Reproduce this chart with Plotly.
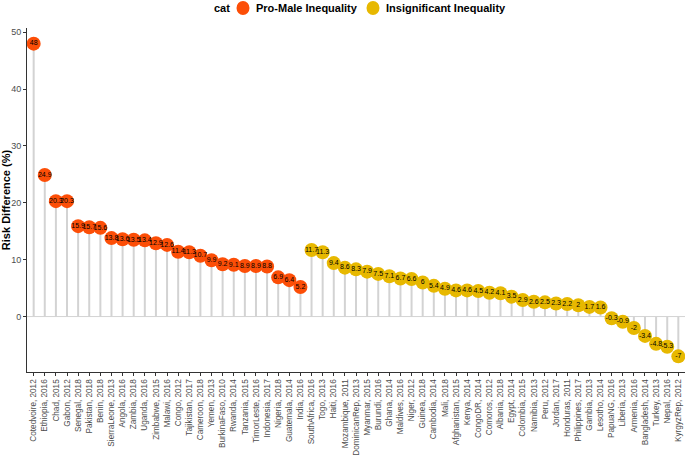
import plotly.graph_objects as go

countries = ["Cotedvoire, 2012", "Ethiopia, 2016", "Chad, 2015", "Gabon, 2012", "Senegal, 2018",
             "Pakistan, 2018", "Benin, 2018", "SierraLeone, 2013", "Angola, 2016", "Zambia, 2018",
             "Uganda, 2016", "Zimbabwe, 2015", "Malawi, 2016", "Congo, 2012", "Tajikistan, 2017",
             "Cameroon, 2018", "Yemen, 2013", "BurkinaFaso, 2010", "Rwanda, 2014", "Tanzania, 2015",
             "TimorLeste, 2016", "Indonesia, 2017", "Nigeria, 2018", "Guatemala, 2014", "India, 2016",
             "SouthAfrica, 2016", "Togo, 2013", "Haiti, 2016", "Mozambique, 2011", "DominicanRep, 2013",
             "Myanmar, 2015", "Burundi, 2016", "Ghana, 2014", "Maldives, 2016", "Niger, 2012",
             "Guinea, 2018", "Cambodia, 2014", "Mali, 2018", "Afghanistan, 2015", "Kenya, 2014",
             "CongoDR, 2014", "Comoros, 2012", "Albania, 2018", "Egypt, 2014", "Colombia, 2015",
             "Namibia, 2013", "Peru, 2012", "Jordan, 2017", "Honduras, 2011", "Philippines, 2017",
             "Gambia, 2013", "Lesotho, 2014", "PapuaNG, 2016", "Liberia, 2013", "Armenia, 2016",
             "Bangladesh, 2014", "Turkey, 2013", "Nepal, 2016", "KyrgyzRep, 2012"]
values = [48, 24.9, 20.3, 20.3, 15.9, 15.7, 15.6, 13.8, 13.6, 13.5,
          13.4, 12.9, 12.6, 11.4, 11.3, 10.7, 9.9, 9.2, 9.1, 8.9,
          8.9, 8.8, 6.9, 6.4, 5.2,
          11.7, 11.3, 9.4, 8.6, 8.3, 7.9, 7.5, 7.1, 6.7, 6.6,
          6, 5.4, 4.9, 4.6, 4.6, 4.5, 4.2, 4.1, 3.5, 2.9,
          2.6, 2.5, 2.3, 2.2, 2, 1.7, 1.6, -0.3, -0.9, -2,
          -3.4, -4.8, -5.3, -7]
cats = ["Pro-Male Inequality"] * 25 + ["Insignificant Inequality"] * 34
cat_names = ["Pro-Male Inequality", "Insignificant Inequality"]
cat_colors = {"Pro-Male Inequality": "#FC4E07", "Insignificant Inequality": "#E7B800"}
legend_title = "cat"
y_ticks = [0, 10, 20, 30, 40, 50]

fig = go.Figure()

# segments from 0 to each value
seg_x, seg_y = [], []
for c, v in zip(countries, values):
    seg_x += [c, c, None]
    seg_y += [0, v, None]
fig.add_trace(go.Scatter(x=seg_x, y=seg_y, mode="lines",
                         line=dict(color="#D3D3D3", width=2),
                         showlegend=False, hoverinfo="skip"))

for cn in cat_names:
    xs = [c for c, k in zip(countries, cats) if k == cn]
    ys = [v for v, k in zip(values, cats) if k == cn]
    fig.add_trace(go.Scatter(x=xs, y=ys, mode="markers", name=cn, showlegend=False,
                             marker=dict(color=cat_colors[cn], size=14)))
    fig.add_trace(go.Scatter(x=xs, y=ys, mode="text", text=[f"{v:g}" for v in ys],
                             textposition="middle center",
                             textfont=dict(size=7, color="#000000"),
                             showlegend=False, hoverinfo="skip"))

fig.add_shape(type="line", xref="paper", yref="y", x0=0, x1=1, y0=0, y1=0,
              line=dict(color="#D3D3D3", width=1), layer="below")

# legend drawn at top (ggplot-style)
L, W = 27, 658
T, H = 28, 344
def px(x):
    return (x - L) / W
leg_y = 1 + (T - 8) / H
fig.add_annotation(x=px(212), y=leg_y, xref="paper", yref="paper", xanchor="left",
                   yanchor="middle", text=f"<b>{legend_title}</b>", showarrow=False,
                   font=dict(size=11, color="#000000"))
for cn, cx, tx in zip(cat_names, [243, 373], [254, 384]):
    fig.add_shape(type="circle", xref="paper", yref="paper", xsizemode="pixel",
                  ysizemode="pixel", xanchor=px(cx), yanchor=leg_y,
                  x0=-6.5, x1=6.5, y0=-7, y1=7,
                  fillcolor=cat_colors[cn], line=dict(width=0))
    fig.add_annotation(x=px(tx), y=leg_y, xref="paper", yref="paper", xanchor="left",
                       yanchor="middle", text=f"<b>{cn}</b>", showarrow=False,
                       font=dict(size=11, color="#000000"))

fig.update_layout(
    width=685, height=457,
    margin=dict(l=L, r=685 - L - W, t=T, b=457 - T - H, autoexpand=False),
    paper_bgcolor="white", plot_bgcolor="white",
    font=dict(family="Liberation Sans, Arial, sans-serif", color="#000000"),
    showlegend=False,
)

fig.update_xaxes(type="category", categoryorder="array", categoryarray=countries,
                 range=[-0.6, len(countries) - 0.4], automargin=False,
                 tickangle=-90, tickfont=dict(size=8.2, color="#4D4D4D"),
                 showline=True, linecolor="#333333", linewidth=1,
                 ticks="outside", ticklen=3, tickcolor="#333333",
                 showgrid=False, zeroline=False)
fig.update_yaxes(range=[-9.75, 50.75], tickvals=y_ticks, automargin=False,
                 tickfont=dict(size=9, color="#4D4D4D"),
                 title=dict(text="<b>Risk Difference (%)</b>", font=dict(size=11), standoff=2),
                 showline=True, linecolor="#333333", linewidth=1,
                 ticks="outside", ticklen=3, tickcolor="#333333",
                 showgrid=False, zeroline=False)

fig.write_html("out.html", config={"displayModeBar": False},
               post_script="document.body.style.margin='0px';")
